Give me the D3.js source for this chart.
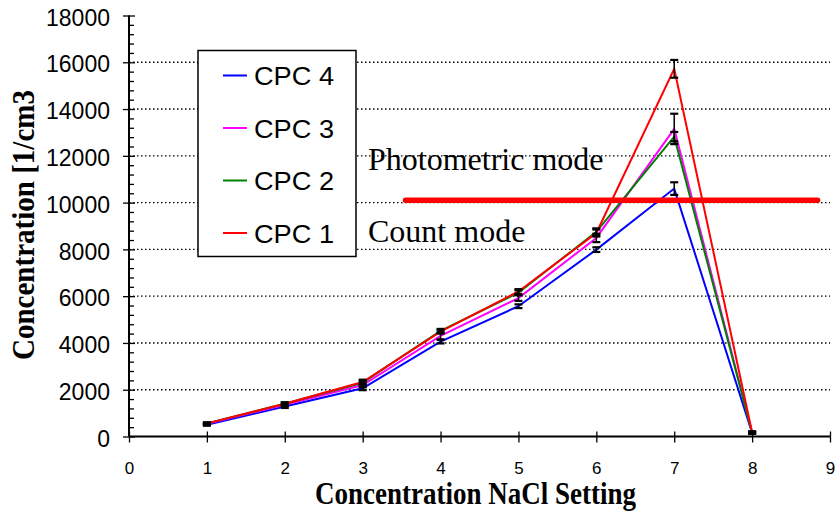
<!DOCTYPE html>
<html>
<head>
<meta charset="utf-8">
<script src="https://cdn.jsdelivr.net/npm/d3@7"></script>
<style>
  html, body { margin: 0; padding: 0; background: #fff; }
  svg { display: block; }
</style>
</head>
<body>
<svg id="chart" width="835" height="513"></svg>
<script>
// ---- data ----
const settings = [1, 2, 3, 4, 5, 6, 7, 8];
const seriesNames = ["CPC 4", "CPC 3", "CPC 2", "CPC 1"];
const seriesColors = ["#0000ff", "#ff00ff", "#008000", "#ff0000"];
const cpc4 = [500, 1280, 2060, 4060, 5570, 7990, 10600, 150];
const cpc3 = [540, 1360, 2200, 4300, 5920, 8490, 13150, 170];
const cpc2 = [560, 1400, 2300, 4520, 6150, 8750, 12820, 170];
const cpc1 = [560, 1400, 2330, 4480, 6200, 8700, 15720, 170];
const err4 = [40, 60, 80, 80, 80, 100, 270, 40];
const err3 = [40, 60, 100, 150, 120, 180, 650, 40];
const err2 = [40, 60, 80, 80, 100, 150, 200, 40];
const err1 = [40, 60, 100, 80, 100, 150, 380, 40];
const xTicks = [0, 1, 2, 3, 4, 5, 6, 7, 8, 9];
const yTicks = [0, 2000, 4000, 6000, 8000, 10000, 12000, 14000, 16000, 18000];
const modeLine = { x0: 3.55, x1: 8.84, y: 10100 };
const modeLabels = ["Photometric mode", "Count mode"];
const xTitle = "Concentration NaCl Setting";
const yTitle = "Concentration [1/cm3";

const seriesValues = [cpc4, cpc3, cpc2, cpc1];
const seriesErrors = [err4, err3, err2, err1];

// ---- scales ----
const svg = d3.select("#chart");
const x = d3.scaleLinear().domain([0, 9]).range([129, 830]);
const y = d3.scaleLinear().domain([0, 18000]).range([436.5, 15.5]);

// ---- gridlines ----
svg.append("g").selectAll("line")
  .data(yTicks.filter(d => d > 0 && d < 18000))
  .join("line")
  .attr("x1", x(0)).attr("x2", x(9))
  .attr("y1", d => y(d)).attr("y2", d => y(d))
  .attr("stroke", "#000").attr("stroke-width", 1.4)
  .attr("stroke-dasharray", "1.5,2.5");

// ---- axes ----
const yMinor = d3.range(0, 18001, 400).filter(d => d % 2000 !== 0);
const yAxisG = svg.append("g");
yAxisG.append("g").attr("transform", `translate(${x(0)},0)`)
  .call(d3.axisRight(y).tickValues(yMinor).tickSize(5).tickFormat(""))
  .call(g => g.select(".domain").remove())
  .call(g => g.selectAll("line").attr("stroke-width", 1.3));
yAxisG.append("g").attr("transform", `translate(${x(0)},0)`)
  .call(d3.axisRight(y).tickValues(yTicks).tickSize(6).tickFormat(""))
  .call(g => g.select(".domain").remove())
  .call(g => g.selectAll("line").attr("stroke-width", 1.3));
yAxisG.append("g").attr("transform", `translate(${x(0)},0)`)
  .call(d3.axisLeft(y).tickValues(yTicks).tickSize(6).tickPadding(13).tickFormat(d3.format("d")))
  .call(g => g.select(".domain").attr("stroke-width", 2).attr("d", `M0,${y(18000)}V${y(0)}`))
  .call(g => g.selectAll("line").attr("stroke-width", 1.3))
  .call(g => g.selectAll("text")
    .attr("font-family", "'Liberation Sans', Arial, sans-serif")
    .attr("font-size", "23px").attr("fill", "#000").attr("dy", "0.42em"));

const xAxisG = svg.append("g");
xAxisG.append("g").attr("transform", `translate(0,${y(0)})`)
  .call(d3.axisTop(x).tickValues(xTicks).tickSize(5).tickFormat(""))
  .call(g => g.select(".domain").remove())
  .call(g => g.selectAll("line").attr("stroke-width", 1.3));
xAxisG.append("g").attr("transform", `translate(0,${y(0)})`)
  .call(d3.axisBottom(x).tickValues(xTicks).tickSize(6).tickPadding(19).tickFormat(d3.format("d")))
  .call(g => g.select(".domain").attr("stroke-width", 2).attr("d", `M${x(0)},0H${x(9)}`))
  .call(g => g.selectAll("line").attr("stroke-width", 1.3))
  .call(g => g.selectAll("text")
    .attr("font-family", "'Liberation Sans', Arial, sans-serif")
    .attr("font-size", "17px").attr("fill", "#000").attr("dy", "0.71em"));

// ---- series lines ----
const line = d3.line().x((d, i) => x(settings[i])).y(d => y(d));
svg.append("g").selectAll("path")
  .data(seriesValues)
  .join("path")
  .attr("d", d => line(d))
  .attr("fill", "none")
  .attr("stroke", (d, i) => seriesColors[i])
  .attr("stroke-width", 2);

// ---- error bars ----
const eb = svg.append("g").attr("stroke", "#000");
seriesValues.forEach((vals, si) => {
  const errs = seriesErrors[si];
  vals.forEach((v, i) => {
    const cx = x(settings[i]);
    const top = y(v + errs[i]);
    const bot = y(v - errs[i]);
    eb.append("line").attr("x1", cx).attr("x2", cx).attr("y1", top).attr("y2", bot).attr("stroke-width", 1.5);
    eb.append("line").attr("x1", cx - 4).attr("x2", cx + 4).attr("y1", top).attr("y2", top).attr("stroke-width", 2.2);
    eb.append("line").attr("x1", cx - 4).attr("x2", cx + 4).attr("y1", bot).attr("y2", bot).attr("stroke-width", 2.2);
  });
});

// ---- mode separator line ----
svg.append("line")
  .attr("x1", x(modeLine.x0)).attr("x2", x(modeLine.x1))
  .attr("y1", y(modeLine.y)).attr("y2", y(modeLine.y))
  .attr("stroke", "#ff0000").attr("stroke-width", 5.5).attr("stroke-linecap", "round");

svg.append("text").attr("x", 368).attr("y", 170)
  .attr("font-family", "'Liberation Serif', 'Times New Roman', serif")
  .attr("font-size", "32px").attr("fill", "#000").text(modeLabels[0]);
svg.append("text").attr("x", 368).attr("y", 242)
  .attr("font-family", "'Liberation Serif', 'Times New Roman', serif")
  .attr("font-size", "32px").attr("fill", "#000").text(modeLabels[1]);

// ---- legend ----
const legend = svg.append("g");
legend.append("rect").attr("x", 198).attr("y", 50.5).attr("width", 158).attr("height", 206)
  .attr("fill", "#fff").attr("stroke", "#000").attr("stroke-width", 1.5);
seriesNames.forEach((name, i) => {
  const base = 85 + i * 52.5;
  legend.append("line").attr("x1", 223).attr("x2", 247)
    .attr("y1", base - 9.5).attr("y2", base - 9.5)
    .attr("stroke", seriesColors[i]).attr("stroke-width", 2);
  legend.append("text").attr("x", 254).attr("y", base)
    .attr("font-family", "'Liberation Sans', Arial, sans-serif")
    .attr("font-size", "26px").attr("fill", "#000")
    .attr("textLength", 80).attr("lengthAdjust", "spacingAndGlyphs")
    .text(name);
});

// ---- axis titles ----
svg.append("text").attr("x", 315).attr("y", 504)
  .attr("font-family", "'Liberation Serif', 'Times New Roman', serif")
  .attr("font-weight", "bold").attr("font-size", "31px").attr("fill", "#000")
  .attr("textLength", 321).attr("lengthAdjust", "spacingAndGlyphs")
  .text(xTitle);
svg.append("text")
  .attr("transform", "translate(34,360) rotate(-90)")
  .attr("x", 0).attr("y", 0)
  .attr("font-family", "'Liberation Serif', 'Times New Roman', serif")
  .attr("font-weight", "bold").attr("font-size", "31px").attr("fill", "#000")
  .attr("textLength", 270).attr("lengthAdjust", "spacingAndGlyphs")
  .text(yTitle);
</script>
</body>
</html>
